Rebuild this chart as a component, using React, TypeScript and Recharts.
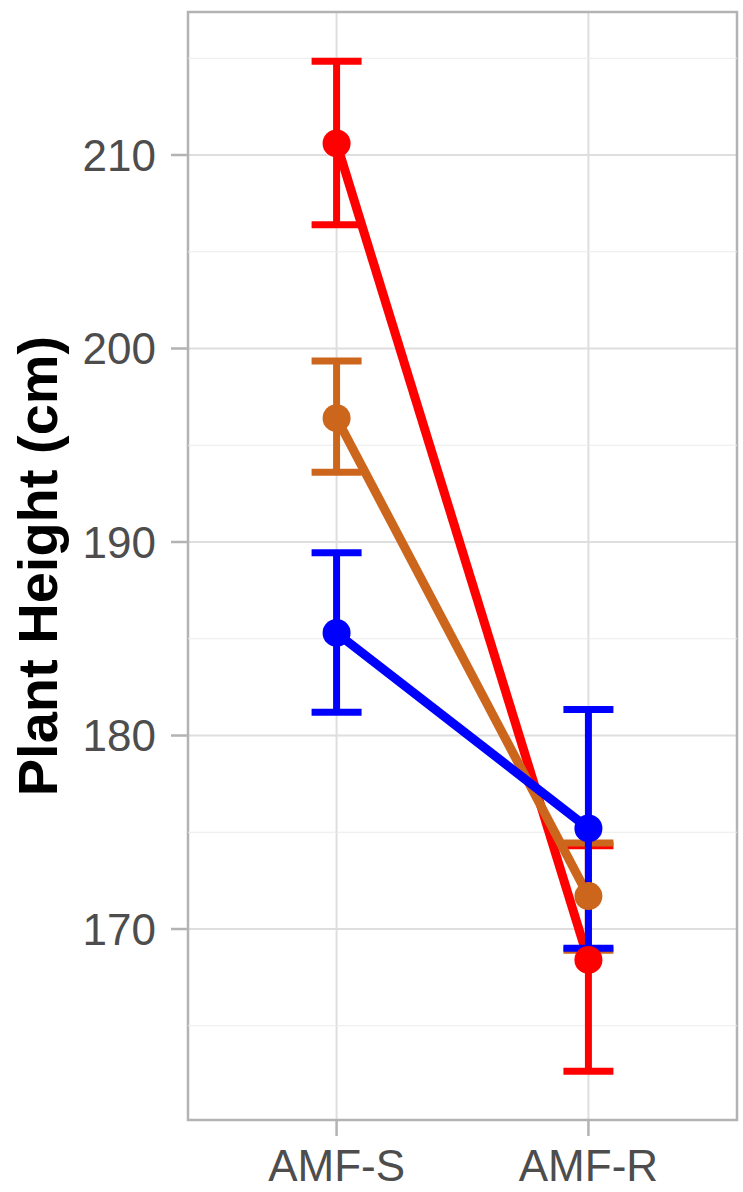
import React from "react";
import {
  LineChart,
  Line,
  XAxis,
  YAxis,
  CartesianGrid,
  ErrorBar,
  ReferenceLine,
  ReferenceArea,
  Label,
} from "recharts";

const categories = ["AMF-S", "AMF-R"];

// mean and error-bar ends per group (cm)
const redMean = [210.6, 168.4];
const redLow = [206.4, 162.65];
const redHigh = [214.85, 174.3];

const orangeMean = [196.4, 171.7];
const orangeLow = [193.6, 168.9];
const orangeHigh = [199.35, 174.45];

const blueMean = [185.3, 175.2];
const blueLow = [181.2, 169.0];
const blueHigh = [189.45, 181.35];

const yTicks = [170, 180, 190, 200, 210];
const yMinorTicks = [165, 175, 185, 195, 205, 215];

const X_DOMAIN: [number, number] = [0.41, 2.59];
const Y_DOMAIN: [number, number] = [160.13, 217.39];

const FONT = "'Liberation Sans', Arial, sans-serif";

const data = categories.map((cat, i) => ({
  x: i + 1,
  cat,
  red: redMean[i],
  redErr: [redMean[i] - redLow[i], redHigh[i] - redMean[i]],
  orange: orangeMean[i],
  orangeErr: [orangeMean[i] - orangeLow[i], orangeHigh[i] - orangeMean[i]],
  blue: blueMean[i],
  blueErr: [blueMean[i] - blueLow[i], blueHigh[i] - blueMean[i]],
}));

// drawing order: red under orange under blue
const SERIES = [
  { key: "red", color: "#FF0000" },
  { key: "orange", color: "#CD661D" },
  { key: "blue", color: "#0000FF" },
];

export default function App() {
  return (
    <div style={{ position: "absolute", left: 0, top: 0, background: "#fff" }}>
      <LineChart
        width={743}
        height={1192}
        data={data}
        margin={{ top: 12, right: 6, bottom: 0, left: 0 }}
      >
        {yMinorTicks.map((v) => (
          <ReferenceLine key={v} y={v} stroke="#EBEBEB" strokeWidth={1.2} />
        ))}
        <CartesianGrid stroke="#DEDEDE" strokeWidth={2} />
        <ReferenceArea
          x1={X_DOMAIN[0]}
          x2={X_DOMAIN[1]}
          y1={Y_DOMAIN[0]}
          y2={Y_DOMAIN[1]}
          fill="none"
          fillOpacity={0}
          stroke="#B3B3B3"
          strokeWidth={2.5}
          ifOverflow="visible"
        />
        <XAxis
          dataKey="x"
          type="number"
          domain={X_DOMAIN}
          ticks={[1, 2]}
          allowDataOverflow
          tickFormatter={(v) => categories[v - 1]}
          height={72}
          axisLine={false}
          tickLine={{ stroke: "#B3B3B3", strokeWidth: 2.5 }}
          tickSize={16}
          tickMargin={14}
          tick={{ fill: "#4D4D4D", fontSize: 44, fontFamily: FONT }}
        />
        <YAxis
          type="number"
          domain={Y_DOMAIN}
          ticks={yTicks}
          allowDataOverflow
          width={188}
          axisLine={false}
          tickLine={{ stroke: "#B3B3B3", strokeWidth: 2.5 }}
          tickSize={17}
          tickMargin={15}
          tick={{ fill: "#4D4D4D", fontSize: 44, fontFamily: FONT }}
        >
          <Label
            value="Plant Height (cm)"
            angle={-90}
            position="insideLeft"
            offset={37}
            style={{
              textAnchor: "middle",
              fontSize: 56,
              fontWeight: "bold",
              fontFamily: FONT,
              fill: "#000",
            }}
          />
        </YAxis>
        {SERIES.map((s) => (
          <Line
            key={s.key}
            dataKey={s.key}
            type="linear"
            stroke={s.color}
            strokeWidth={9}
            dot={{ r: 14, fill: s.color, stroke: s.color, strokeWidth: 0 }}
            activeDot={false}
            isAnimationActive={false}
          >
            <ErrorBar
              dataKey={`${s.key}Err`}
              direction="y"
              width={25}
              stroke={s.color}
              strokeWidth={7}
              isAnimationActive={false}
            />
          </Line>
        ))}
      </LineChart>
    </div>
  );
}
